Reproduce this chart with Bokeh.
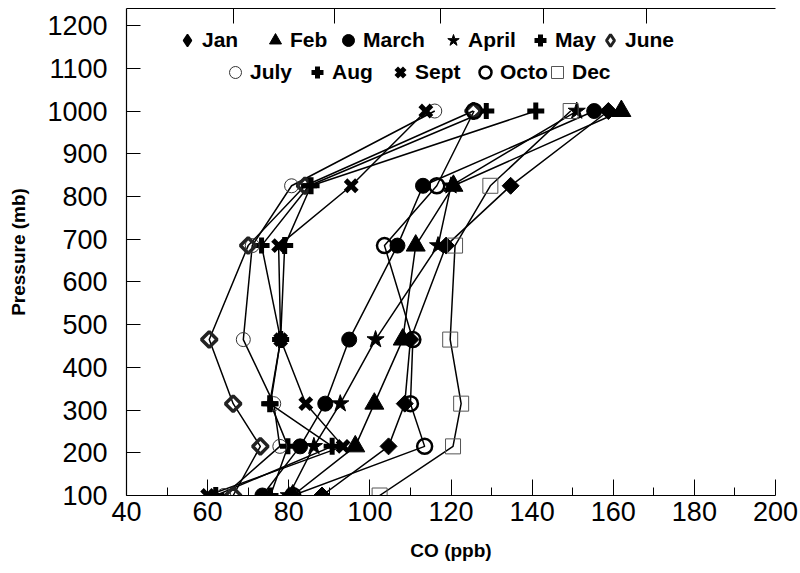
from bokeh.plotting import figure
from bokeh.models import Range1d, Legend, LegendItem, FixedTicker, ColumnDataSource, LinearAxis
from bokeh.embed import file_html
from bokeh.resources import INLINE
import math

pressure = [1000, 825, 685, 465, 315, 215, 100]

jan = [158.8, 134.7, 118.8, 110.0, 108.6, 104.6, 88.2]
feb = [162.0, 120.6, 111.3, 108.1, 101.1, 96.4, 81.0]
march = [155.3, 113.1, 106.8, 94.9, 89.0, 82.8, 73.5]
april = [151.0, 120.0, 116.8, 101.4, 92.7, 86.2, 80.0]
may = [128.7, 85.0, 73.3, 78.0, 75.5, 79.8, 75.5]
june = [125.5, 84.0, 70.0, 60.4, 66.3, 73.0, 66.3]
july = [116.0, 80.7, 71.0, 68.8, 76.3, 77.8, 64.0]
aug = [140.9, 85.5, 79.0, 78.0, 75.3, 90.7, 62.0]
sept = [113.8, 95.4, 77.5, 78.0, 84.2, 93.4, 60.0]
octo = [125.7, 116.5, 103.6, 110.6, 110.0, 113.5, 81.0]
dec = [149.5, 129.7, 121.0, 119.8, 122.5, 120.5, 102.4]

month_labels = ["Jan", "Feb", "March", "April", "May", "June",
                "July", "Aug", "Sept", "Octo", "Dec"]
series = [jan, feb, march, april, may, june, july, aug, sept, octo, dec]

x_ticks = [40, 60, 80, 100, 120, 140, 160, 180, 200]
x_minor = [50, 70, 90, 110, 130, 150, 170, 190]
top_ticks = [66.3, 91.4, 117.3, 142.9, 168.2]
y_ticks = [100, 200, 300, 400, 500, 600, 700, 800, 900, 1000, 1100, 1200]

FONT = "Liberation Sans"

p = figure(width=800, height=573, output_backend="svg", toolbar_location=None,
           x_range=Range1d(40, 200), y_range=Range1d(100, 1240),
           min_border_left=126, min_border_right=25, min_border_top=8,
           min_border_bottom=78)
p.frame_width = 649
p.frame_height = 487
p.background_fill_color = "white"
p.border_fill_color = "white"
p.outline_line_color = None
p.grid.visible = False

for ax in (p.xaxis[0], p.yaxis[0]):
    ax.axis_line_color = "black"
    ax.axis_line_width = 1.2
    ax.major_tick_line_color = "black"
    ax.minor_tick_line_color = "black"
    ax.major_tick_out = 0
    ax.minor_tick_out = 0
    ax.major_label_text_font = FONT
    ax.major_label_text_font_size = "27px"
    ax.major_label_text_color = "black"
    ax.axis_label_text_font = FONT
    ax.axis_label_text_font_style = "bold"
    ax.axis_label_text_font_size = "19px"
    ax.axis_label_text_color = "black"

p.xaxis.ticker = FixedTicker(ticks=x_ticks, minor_ticks=x_minor)
p.xaxis.major_tick_in = 16
p.xaxis.minor_tick_in = 8
p.xaxis.major_label_standoff = 6
p.xaxis.axis_label = "CO (ppb)"
p.xaxis.axis_label_standoff = 16

p.yaxis.ticker = FixedTicker(ticks=y_ticks)
p.yaxis.major_tick_in = 14
p.yaxis.minor_tick_in = 0
p.yaxis.major_label_standoff = 19
p.yaxis.axis_label = "Pressure (mb)"
p.yaxis.axis_label_standoff = 15

# top frame line with unlabelled inward ticks (minor ticks carry no labels)
top = LinearAxis(ticker=FixedTicker(ticks=[], minor_ticks=top_ticks),
                 axis_line_color="black", axis_line_width=1.2,
                 major_tick_out=0, major_tick_in=0,
                 minor_tick_out=0, minor_tick_in=15,
                 minor_tick_line_color="black", minor_tick_line_width=1)
p.add_layout(top, "above")

styles = {
    "Jan": dict(marker="square", size=12, angle=math.pi / 4, fill_color="black", line_color="black", line_width=1),
    "Feb": dict(marker="triangle", size=19, fill_color="black", line_color="black", line_width=1),
    "March": dict(marker="circle", size=15, fill_color="black", line_color="black", line_width=1),
    "April": dict(marker="star", size=18, fill_color="black", line_color="black", line_width=1),
    "May": dict(marker="cross", size=16, fill_color=None, line_color="black", line_width=5),
    "June": dict(marker="square", size=11, angle=math.pi / 4, fill_color=None, line_color="#222222", line_width=3.5),
    "July": dict(marker="circle", size=14, fill_color=None, line_color="#333333", line_width=1),
    "Aug": dict(marker="cross", size=17, fill_color=None, line_color="black", line_width=5),
    "Sept": dict(marker="x", size=16, fill_color=None, line_color="black", line_width=5),
    "Octo": dict(marker="circle", size=15, fill_color=None, line_color="black", line_width=2.5),
    "Dec": dict(marker="square", size=15, fill_color=None, line_color="#555555", line_width=1),
}

for vals in series:
    p.line(vals, pressure, line_color="black", line_width=1.5)

renderers = {}
for name, vals in zip(month_labels, series):
    src = ColumnDataSource(dict(x=vals, y=pressure))
    renderers[name] = p.scatter("x", "y", source=src, **styles[name])

# legend keys: rotated squares are not rotated inside a legend, so Jan and
# June use hidden diamond-shaped key renderers built from the same data
legend_renderers = dict(renderers)
legend_renderers["Jan"] = p.scatter(jan, pressure, marker="diamond", fill_color="black",
                                    line_color="black", line_width=1.5, visible=False)
legend_renderers["June"] = p.scatter(june, pressure, marker="diamond", fill_color=None,
                                     line_color="#222222", line_width=3, visible=False)

row1_y = 439
row2_y = 407
legend_pos = {
    "Jan": (46, row1_y), "Feb": (134, row1_y), "March": (207, row1_y),
    "April": (312, row1_y), "May": (399, row1_y), "June": (469, row1_y),
    "July": (94, row2_y), "Aug": (176, row2_y), "Sept": (259, row2_y),
    "Octo": (344, row2_y), "Dec": (416, row2_y),
}
for name in month_labels:
    leg = Legend(items=[LegendItem(label=name, renderers=[legend_renderers[name]])],
                 location=legend_pos[name], orientation="horizontal",
                 glyph_width=30, glyph_height=32, label_standoff=0,
                 padding=0, margin=0, spacing=0,
                 border_line_color=None, background_fill_alpha=0,
                 label_text_font=FONT, label_text_font_style="bold",
                 label_text_font_size="21px", label_text_color="black")
    p.add_layout(leg, "center")

open("out.html", "w").write(file_html(p, INLINE))
